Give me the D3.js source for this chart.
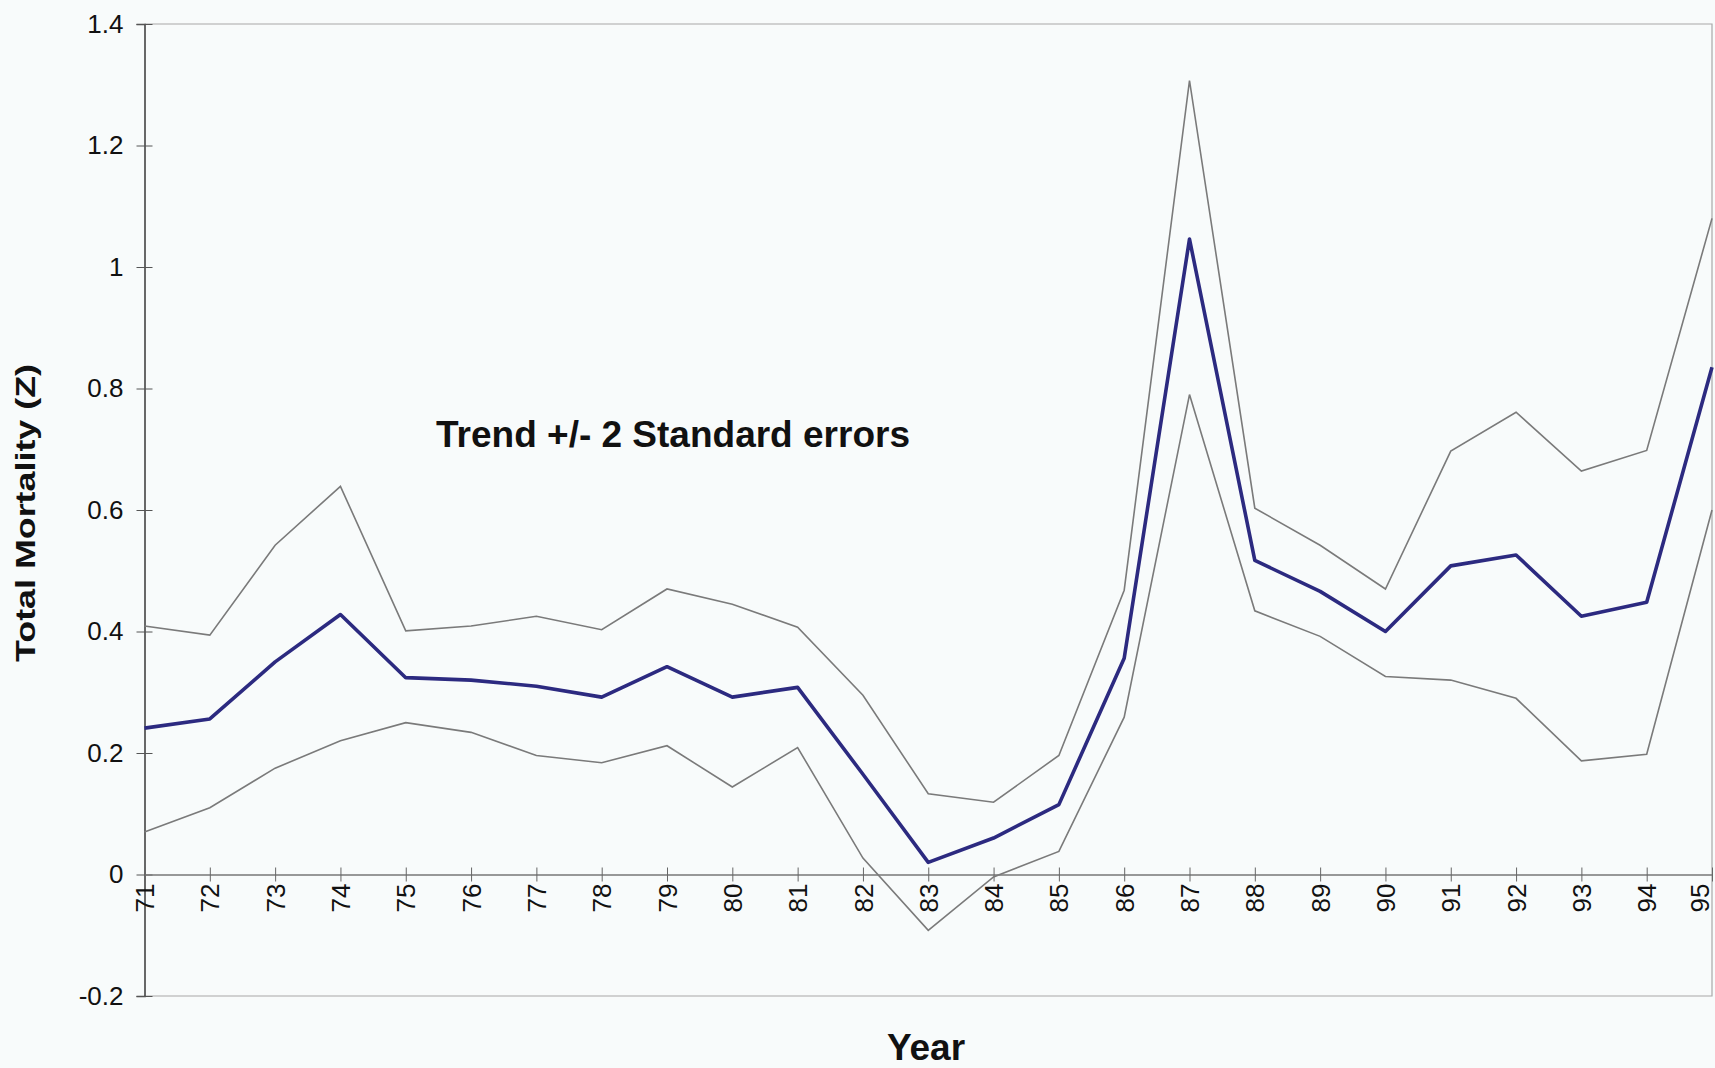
<!DOCTYPE html>
<html>
<head>
<meta charset="utf-8">
<script src="https://cdn.jsdelivr.net/npm/d3@7"></script>
<style>
  body { margin: 0; background: #f8fbfb; }
  svg { display: block; font-family: "Liberation Sans", Arial, sans-serif; }
</style>
</head>
<body>
<div id="chart"></div>
<script>
// DATA
const years = ["71","72","73","74","75","76","77","78","79","80","81","82","83",
               "84","85","86","87","88","89","90","91","92","93","94","95"]

const trend = [0.241, 0.256, 0.350, 0.428, 0.324, 0.320, 0.310, 0.292, 0.342, 0.292, 0.308, 0.165, 0.020,
               0.060, 0.115, 0.356, 1.046, 0.517, 0.466, 0.400, 0.508, 0.526, 0.425, 0.448, 0.835]

const upper = [0.409, 0.394, 0.542, 0.639, 0.401, 0.409, 0.425, 0.403, 0.470, 0.445, 0.407, 0.295, 0.133,
               0.119, 0.196, 0.468, 1.307, 0.603, 0.542, 0.470, 0.697, 0.761, 0.664, 0.698, 1.080]

const lower = [0.070, 0.110, 0.175, 0.220, 0.250, 0.234, 0.196, 0.184, 0.212, 0.144, 0.209, 0.027, -0.092,
               -0.004, 0.038, 0.259, 0.790, 0.434, 0.392, 0.326, 0.320, 0.290, 0.187, 0.198, 0.600]

const yTicks = [-0.2, 0, 0.2, 0.4, 0.6, 0.8, 1, 1.2, 1.4]
const yTickLabels = ["-0.2", "0", "0.2", "0.4", "0.6", "0.8", "1", "1.2", "1.4"]

const width = 1715
const height = 1068
const plotLeft = 144.5, plotRight = 1712, plotTop = 24, plotBottom = 996

// SCALES
const xScale = d3.scalePoint()
    .domain(years)
    .range([plotLeft, plotRight])

const yScale = d3.scaleLinear()
    .domain([-0.2, 1.4])
    .range([plotBottom, plotTop])

const svg = d3.select("#chart")
    .append("svg")
    .attr("width", width)
    .attr("height", height)

// FRAME (top, right, bottom)
svg.append("path")
    .attr("d", `M${plotLeft},${plotTop}H${plotRight}V${plotBottom}H${plotLeft}`)
    .attr("fill", "none")
    .attr("stroke", "#a8a8a8")
    .attr("stroke-width", 1.2)

// Y AXIS
const yAxisG = svg.append("g")
    .attr("transform", `translate(${plotLeft},0)`)
    .call(d3.axisLeft(yScale)
        .tickValues(yTicks)
        .tickSize(8)
        .tickPadding(13)
        .tickFormat((d, i) => yTickLabels[i]))
yAxisG.select(".domain").attr("stroke", "#444").attr("stroke-width", 1.6)
yAxisG.selectAll(".tick line").attr("x1", 8).attr("stroke", "#555")
yAxisG.selectAll(".tick text")
    .attr("font-size", 26)
    .attr("fill", "#111")
    .attr("font-family", "Liberation Sans, Arial, sans-serif")

// X AXIS at zero
const xAxisG = svg.append("g")
    .attr("transform", `translate(0,${yScale(0)})`)
    .call(d3.axisBottom(xScale).tickSize(7).tickSizeOuter(0))
xAxisG.select(".domain").attr("stroke", "#777").attr("stroke-width", 1.5)
xAxisG.selectAll(".tick line").attr("y1", -7).attr("stroke", "#666")
xAxisG.selectAll(".tick text")
    .attr("font-size", 26)
    .attr("fill", "#111")
    .attr("font-family", "Liberation Sans, Arial, sans-serif")
    .attr("transform", "rotate(-90)")
    .attr("x", -9)
    // last label sits on the page edge, nudge it in so it isn't clipped
    .attr("y", (d, i) => i === years.length - 1 ? -13 : 0)
    .attr("dy", "0.35em")
    .style("text-anchor", "end")

// LINES
const line = d3.line()
    .x((d, i) => xScale(years[i]))
    .y(d => yScale(d))

svg.append("path")
    .datum(upper)
    .attr("d", line)
    .attr("fill", "none")
    .attr("stroke", "#7a7a7a")
    .attr("stroke-width", 1.6)

svg.append("path")
    .datum(lower)
    .attr("d", line)
    .attr("fill", "none")
    .attr("stroke", "#7a7a7a")
    .attr("stroke-width", 1.6)

svg.append("path")
    .datum(trend)
    .attr("d", line)
    .attr("fill", "none")
    .attr("stroke", "#2c2a80")
    .attr("stroke-width", 3.6)
    .attr("stroke-linejoin", "round")

// TITLES
svg.append("text")
    .text("Trend +/- 2 Standard errors")
    .attr("x", 436)
    .attr("y", 447)
    .attr("font-size", 37)
    .attr("font-weight", "bold")
    .attr("fill", "#111")

svg.append("text")
    .text("Year")
    .attr("x", 926)
    .attr("y", 1060)
    .attr("font-size", 37)
    .attr("font-weight", "bold")
    .attr("fill", "#111")
    .style("text-anchor", "middle")

svg.append("text")
    .text("Total Mortality (Z)")
    .attr("transform", "translate(35,513) rotate(-90)")
    .attr("font-size", 27)
    .attr("font-weight", "bold")
    .attr("fill", "#111")
    .attr("textLength", 298)
    .attr("lengthAdjust", "spacingAndGlyphs")
    .style("text-anchor", "middle")
</script>
</body>
</html>
